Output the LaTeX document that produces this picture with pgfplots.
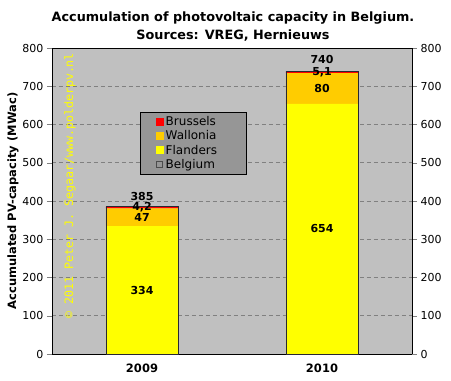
\documentclass[border=0pt]{standalone}
\usepackage{pgfplots}
\pgfplotsset{compat=1.18}
\usepackage{fontspec}
\setmainfont{DejaVu Sans}
\newfontfamily\monofont{DejaVu Sans Mono}
\definecolor{plotbg}{RGB}{192,192,192}
\definecolor{legbg}{RGB}{150,150,150}
\definecolor{wal}{RGB}{255,204,0}
\definecolor{fla}{RGB}{255,255,0}
\definecolor{gridc}{RGB}{128,128,128}
\definecolor{barline}{RGB}{40,40,50}

\pgfplotstableread{
x val
0 334
1 654
}\flanders
\pgfplotstableread{
x val
0 47
1 80
}\wallonia
\pgfplotstableread{
x val
0 4.2
1 5.1
}\brussels
\pgfplotstableread{
x val
0 385.2
1 739.1
}\belgium
\pgfplotstableread{
x y label
0 167 334
0 357.5 47
0 383 4,2
0 413 385
1 327 654
1 694 80
1 736 5,1
1 769 740
}\labels

\begin{document}
\begin{tikzpicture}[x=1pt,y=1pt]
\useasboundingbox (0,0) rectangle (451,381);
\node[font=\bfseries\fontsize{12.8}{14}\selectfont] at (233,363) {Accumulation of photovoltaic capacity in Belgium.};
\node[font=\bfseries\fontsize{12.8}{14}\selectfont] at (233,345) {Sources: VREG, Hernieuws};
\node[rotate=90, font=\bfseries\fontsize{11.5}{13}\selectfont] at (13,180) {Accumulated PV-capacity (MWac)};
\begin{axis}[
  at={(52pt,27pt)}, anchor=south west,
  scale only axis, width=360pt, height=306pt,
  xmin=-0.5, xmax=1.5, ymin=0, ymax=800,
  axis background/.style={fill=plotbg},
  ybar stacked, bar width=72pt,
  ytick distance=100,
  ymajorgrids, grid style={dash pattern=on 4pt off 3pt, gridc, line width=0.7pt},
  axis line style={black, line width=0.8pt},
  tick align=outside, major tick length=5pt,
  ytick pos=left,
  xtick={0,1}, xticklabels={2009,2010},
  major x tick style={draw=none},
  extra x ticks={0.5}, extra x tick labels={},
  extra x tick style={major tick length=4pt, tick style={draw=black}, grid=none},
  xtick pos=bottom,
  x tick label style={font=\bfseries\fontsize{11.5}{13}\selectfont, yshift=-1pt},
  y tick label style={font=\fontsize{11}{12}\selectfont},
  /pgf/number format/assume math mode=true,
  legend style={at={(0.244,0.791)}, anchor=north west, fill=legbg, draw=black, line width=0.9pt,
    font=\fontsize{12}{14}\selectfont, inner xsep=2pt, inner ysep=2pt, row sep=-0.3pt},
  legend cell align=left,
]
\addlegendimage{legend image code/.code={\path[draw=none,fill=none] (0pt,-3.5pt) rectangle (21pt,3.5pt);\fill[red] (14pt,-3.5pt) rectangle (21pt,3.5pt);}}
\addlegendentry{\makebox[77pt][l]{Brussels}}
\addlegendimage{legend image code/.code={\path[draw=none,fill=none] (0pt,-3.5pt) rectangle (21pt,3.5pt);\fill[wal] (14pt,-3.5pt) rectangle (21pt,3.5pt);}}
\addlegendentry{\makebox[77pt][l]{Wallonia}}
\addlegendimage{legend image code/.code={\path[draw=none,fill=none] (0pt,-3.5pt) rectangle (21pt,3.5pt);\fill[fla] (14pt,-3.5pt) rectangle (21pt,3.5pt);}}
\addlegendentry{\makebox[77pt][l]{Flanders}}
\addlegendimage{legend image code/.code={\path[draw=none,fill=none] (0pt,-3.5pt) rectangle (21pt,3.5pt);\draw[black!70, fill=none, line width=0.9pt] (14.4pt,-3.1pt) rectangle (20.6pt,3.1pt);}}
\addlegendentry{\makebox[77pt][l]{Belgium}}
\addplot[forget plot, fill=fla, draw=none] table[x=x,y=val] {\flanders};
\addplot[forget plot, fill=wal, draw=none] table[x=x,y=val] {\wallonia};
\addplot[forget plot, fill=red, draw=none] table[x=x,y=val] {\brussels};
\end{axis}
\begin{axis}[
  at={(52pt,27pt)}, anchor=south west,
  scale only axis, width=360pt, height=306pt,
  xmin=-0.5, xmax=1.5, ymin=0, ymax=800,
  axis x line=none, axis y line*=right,
  axis line style={black, line width=0.8pt},
  ytick distance=100, tick align=outside, major tick length=5pt,
  y tick label style={font=\fontsize{11}{12}\selectfont},
  /pgf/number format/assume math mode=true,
  clip=false,
]
\addplot[ybar, bar width=72pt, fill=none, draw=barline, line width=0.9pt] table[x=x,y=val] {\belgium};
\addplot[only marks, mark=none, nodes near coords, point meta=explicit symbolic,
  every node near coord/.style={anchor=center, font=\bfseries\fontsize{11}{12}\selectfont, text=black}]
  table[x=x, y=y, meta=label] {\labels};
\node[rotate=90, text=fla, font=\monofont\fontsize{11.6}{12}\selectfont] at (rel axis cs:0.05,0.55) {© 2011 Peter J. Segaar/www.polderpv.nl};
\end{axis}
\end{tikzpicture}
\end{document}
